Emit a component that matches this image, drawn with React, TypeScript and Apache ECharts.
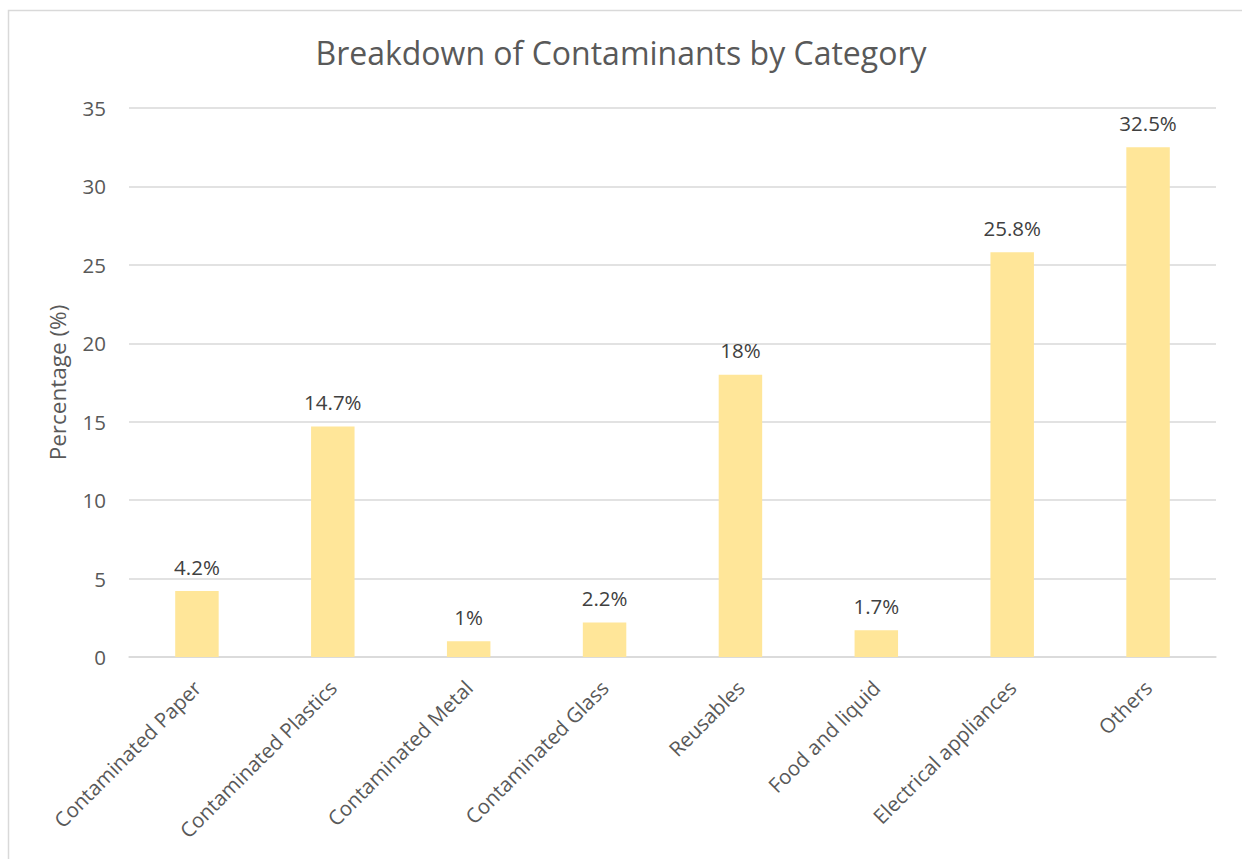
import React, { useEffect, useRef } from "react";
import * as echarts from "echarts";

const categories = [
  "Contaminated Paper",
  "Contaminated Plastics",
  "Contaminated Metal",
  "Contaminated Glass",
  "Reusables",
  "Food and liquid",
  "Electrical appliances",
  "Others",
];
const values = [4.2, 14.7, 1, 2.2, 18, 1.7, 25.8, 32.5];
const yTicks = { min: 0, max: 35, interval: 5 };
const titleText = "Breakdown of Contaminants by Category";
const yName = "Percentage (%)";

const FONT = "'Open Sans', sans-serif";

export default function App() {
  const ref = useRef<HTMLDivElement>(null);
  useEffect(() => {
    if (!ref.current) return;
    const chart = echarts.init(ref.current, undefined, { renderer: "svg" });
    chart.setOption({
      animation: false,
      backgroundColor: "#ffffff",
      textStyle: { fontFamily: FONT },
      graphic: [
        {
          type: "rect",
          shape: { x: 8.5, y: 10.5, width: 1300, height: 900 },
          style: { fill: "none", stroke: "#d9d9d9", lineWidth: 1.5 },
          silent: true,
        },
      ],
      title: {
        text: titleText,
        left: "center",
        top: 31,
        textStyle: { fontFamily: FONT, fontSize: 32, fontWeight: "normal", color: "#595959" },
      },
      grid: { left: 129, right: 26, top: 108, bottom: 202 },
      xAxis: {
        type: "category",
        data: categories,
        axisLine: { show: true, lineStyle: { color: "#d9d9d9", width: 1.5 } },
        axisTick: { show: false },
        axisLabel: {
          rotate: 45,
          interval: 0,
          margin: 27,
          fontFamily: FONT,
          fontSize: 20.5,
          color: "#595959",
        },
      },
      yAxis: {
        type: "value",
        min: yTicks.min,
        max: yTicks.max,
        interval: yTicks.interval,
        name: yName,
        nameLocation: "middle",
        nameGap: 60,
        nameRotate: 90,
        nameTextStyle: { fontFamily: FONT, fontSize: 22.5, color: "#595959" },
        axisLine: { show: false },
        axisTick: { show: false },
        splitLine: { lineStyle: { color: "#d9d9d9", width: 1.5 } },
        axisLabel: { fontFamily: FONT, fontSize: 20.5, color: "#595959", margin: 23 },
      },
      series: [
        {
          type: "bar",
          data: values,
          barWidth: "32%",
          itemStyle: { color: "#FFE699" },
          label: {
            show: true,
            position: "top",
            distance: 14,
            formatter: (p: any) => `${p.value}%`,
            fontFamily: FONT,
            fontSize: 20.5,
            color: "#404040",
          },
        },
      ],
    });
    return () => chart.dispose();
  }, []);
  return (
    <div
      ref={ref}
      style={{ position: "fixed", left: 0, top: 0, width: 1242, height: 859 }}
    />
  );
}
